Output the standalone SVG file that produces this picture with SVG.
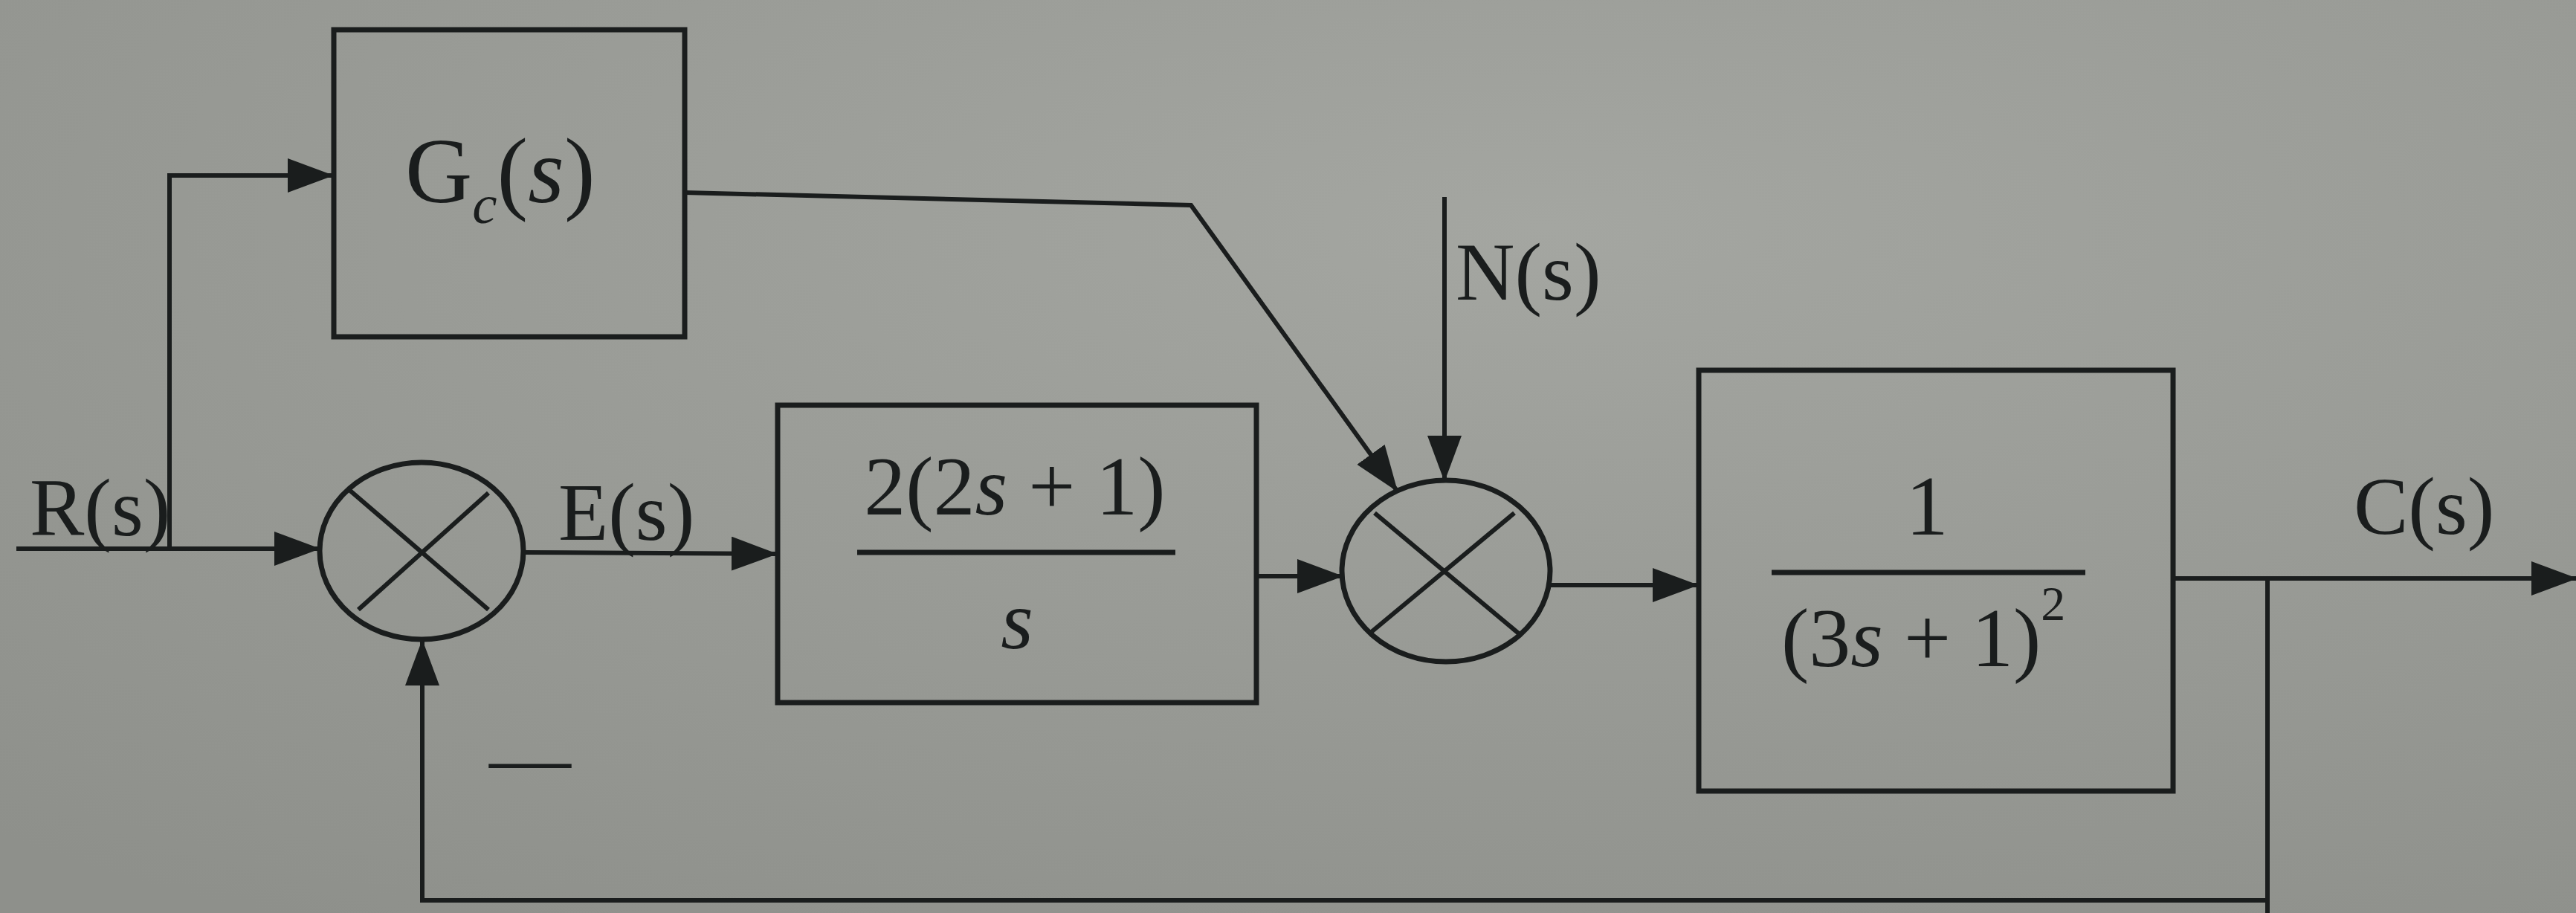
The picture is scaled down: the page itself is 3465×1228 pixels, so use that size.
<svg xmlns="http://www.w3.org/2000/svg" width="3465" height="1228" viewBox="0 0 3465 1228">
<defs>
<radialGradient id="bg" cx="0.6" cy="0.25" r="0.9">
<stop offset="0" stop-color="#a4a6a1"/>
<stop offset="1" stop-color="#8e908b"/>
</radialGradient>
<marker id="ah" markerUnits="userSpaceOnUse" markerWidth="62" markerHeight="46" refX="60" refY="23" orient="auto">
<path d="M0,0 L62,23 L0,46 Z" fill="#1a1d1d"/>
</marker>
<style>
.box{fill:none;stroke:#1a1d1d;stroke-width:7}
.sum{fill:none;stroke:#1a1d1d;stroke-width:7}
.ln{fill:none;stroke:#1a1d1d;stroke-width:6}
.frac{stroke:#1a1d1d;stroke-width:7}
.t{font-family:"Liberation Serif","DejaVu Serif",serif;fill:#1a1d1d}
</style>
</defs>
<rect x="0" y="0" width="3465" height="1228" fill="url(#bg)"/>

<g id="connectors">
<path class="ln" d="M22,738 L429,738" marker-end="url(#ah)"/>
<path class="ln" d="M228,738 L228,236 L447,236" marker-end="url(#ah)"/>
<path class="ln" d="M704,743 L1044,745" marker-end="url(#ah)"/>
<path class="ln" d="M1690,775 L1805,775" marker-end="url(#ah)"/>
<path class="ln" d="M921,259 L1602,276 L1879,660" marker-end="url(#ah)"/>
<path class="ln" d="M1943,265 L1943,646" marker-end="url(#ah)"/>
<path class="ln" d="M2085,787 L2283,787" marker-end="url(#ah)"/>
<path class="ln" d="M2923,778 L3465,778" marker-end="url(#ah)"/>
<path class="ln" d="M3050,778 L3050,1228"/>
<path class="ln" d="M3050,1211 L568,1211 L568,862" marker-end="url(#ah)"/>
</g>

<g id="Gc">
<rect class="box" x="449" y="40" width="472" height="413"/>
<text class="t" x="545" y="272" font-size="125">G<tspan font-size="75" font-style="italic" dy="28">c</tspan><tspan dy="-28" font-size="125">(</tspan><tspan font-style="italic">s</tspan>)</text>
</g>

<g id="sum1">
<ellipse class="sum" cx="567" cy="741" rx="137" ry="119"/>
<line class="ln" x1="471" y1="660" x2="657" y2="820"/>
<line class="ln" x1="657" y1="663" x2="482" y2="820"/>
<text class="t" x="658" y="1056" font-size="110">—</text>
</g>

<g id="G1">
<rect class="box" x="1046" y="545" width="644" height="400"/>
<text class="t" x="1365" y="692" font-size="112" text-anchor="middle">2(2<tspan font-style="italic">s</tspan> + 1)</text>
<line class="frac" x1="1153" y1="743" x2="1581" y2="743"/>
<text class="t" x="1368" y="872" font-size="112" font-style="italic" text-anchor="middle">s</text>
</g>

<g id="sum2">
<ellipse class="sum" cx="1945" cy="768" rx="140" ry="122"/>
<line class="ln" x1="1849" y1="690" x2="2044" y2="853"/>
<line class="ln" x1="2037" y1="690" x2="1841" y2="853"/>
</g>

<g id="G2">
<rect class="box" x="2285" y="498" width="638" height="566"/>
<text class="t" x="2592" y="719" font-size="115" text-anchor="middle">1</text>
<line class="frac" x1="2383" y1="770" x2="2805" y2="770"/>
<text class="t" x="2396" y="896" font-size="112">(3<tspan font-style="italic">s</tspan> + 1)<tspan font-size="66" dy="-62">2</tspan></text>
</g>

<g id="labels">
<text class="t" x="40" y="720" font-size="110">R(s)</text>
<text class="t" x="751" y="726" font-size="110">E(s)</text>
<text class="t" x="1958" y="403" font-size="110">N(s)</text>
<text class="t" x="3166" y="718" font-size="110">C(s)</text>
</g>
</svg>
